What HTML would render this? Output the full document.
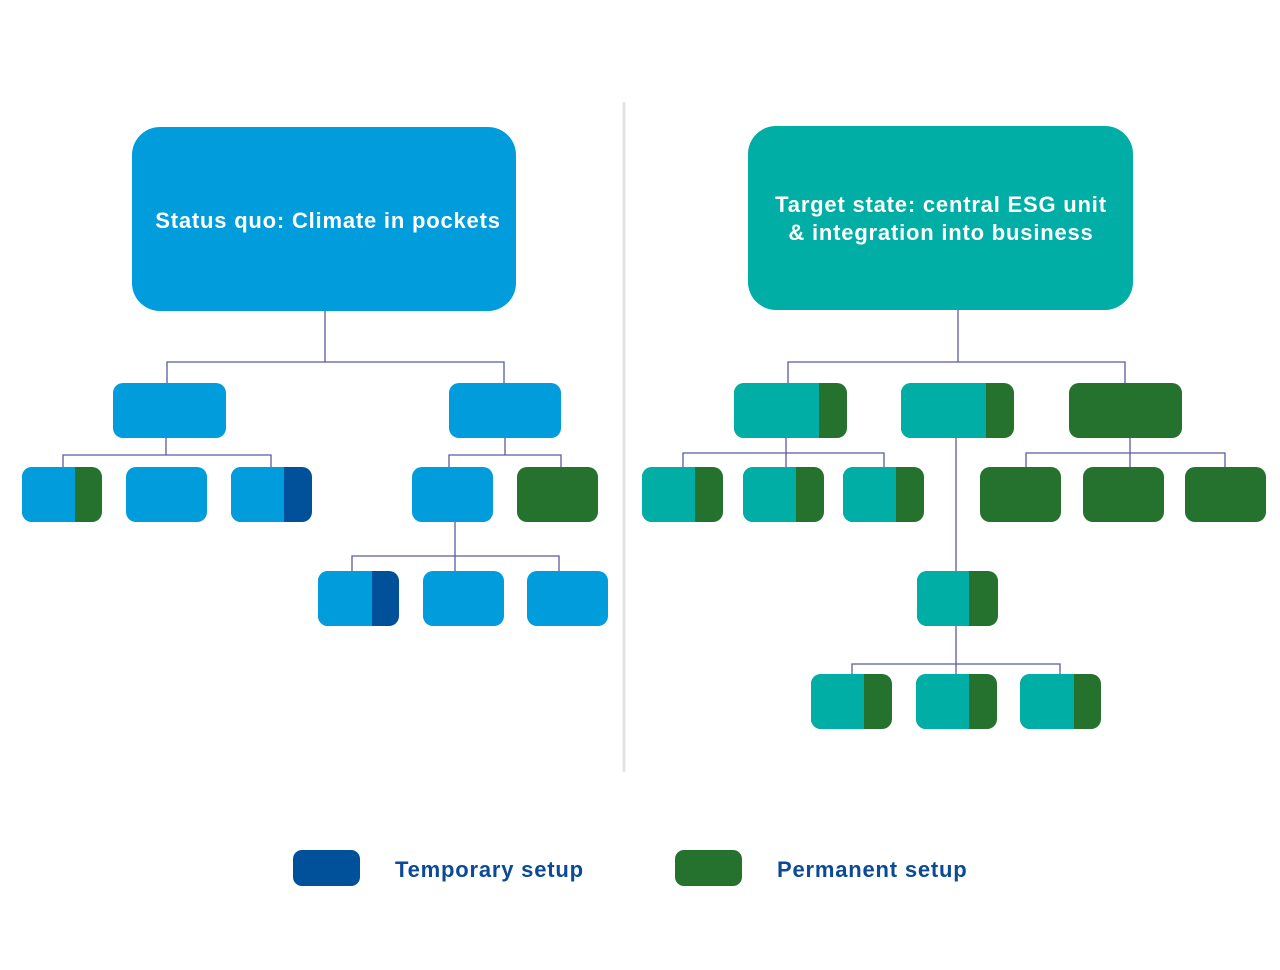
<!DOCTYPE html>
<html><head><style>body{margin:0;background:#fff}svg{display:block}text{font-family:"Liberation Sans",sans-serif;font-weight:bold;letter-spacing:0.8px}</style></head><body>
<svg width="1280" height="970" viewBox="0 0 1280 970" xmlns="http://www.w3.org/2000/svg">
<rect x="622.5" y="102" width="3" height="670" fill="#e3e3e3"/>
<g stroke="#5b5ba3" stroke-width="1.3" fill="none">
<path d="M325 311V362M167 383V362H504V383"/>
<path d="M166 438V455M63 467V455H271V467"/>
<path d="M505 438V455M449 467V455H561V467"/>
<path d="M455 522V556M352 571V556H559V571M455 556V571"/>
<path d="M958 310V362M788 383V362H1125V383"/>
<path d="M786 438V453M683 467V453H884V467M786 453V467"/>
<path d="M1130 438V453M1026 467V453H1225V467M1130 453V467"/>
<path d="M956 438V571M956 626V664M852 674V664H1060V674M956 664V674"/>
</g>
<rect x="132" y="127" width="384" height="184" rx="28" fill="#009cdc"/>
<text x="328" y="228" fill="#fff" font-size="22" text-anchor="middle">Status quo: Climate in pockets</text>
<rect x="748" y="126" width="385" height="184" rx="28" fill="#00aea6"/>
<text x="941" y="212" fill="#fff" font-size="22" text-anchor="middle">Target state: central ESG unit</text>
<text x="941" y="240" fill="#fff" font-size="22" text-anchor="middle">&amp; integration into business</text>
<g>
<rect x="113" y="383" width="113" height="55" rx="10" fill="#009cdc"/>
<rect x="449" y="383" width="112" height="55" rx="10" fill="#009cdc"/>
<rect x="22" y="467" width="80" height="55" rx="10" fill="#24722e"/><path d="M75 467H32a10 10 0 0 0-10 10v35a10 10 0 0 0 10 10H75z" fill="#009cdc"/>
<rect x="126" y="467" width="81" height="55" rx="10" fill="#009cdc"/>
<rect x="231" y="467" width="81" height="55" rx="10" fill="#00519a"/><path d="M284 467H241a10 10 0 0 0-10 10v35a10 10 0 0 0 10 10H284z" fill="#009cdc"/>
<rect x="412" y="467" width="81" height="55" rx="10" fill="#009cdc"/>
<rect x="517" y="467" width="81" height="55" rx="10" fill="#24722e"/>
<rect x="318" y="571" width="81" height="55" rx="10" fill="#00519a"/><path d="M372 571H328a10 10 0 0 0-10 10v35a10 10 0 0 0 10 10H372z" fill="#009cdc"/>
<rect x="423" y="571" width="81" height="55" rx="10" fill="#009cdc"/>
<rect x="527" y="571" width="81" height="55" rx="10" fill="#009cdc"/>
<rect x="734" y="383" width="113" height="55" rx="10" fill="#24722e"/><path d="M819 383H744a10 10 0 0 0-10 10v35a10 10 0 0 0 10 10H819z" fill="#00aea6"/>
<rect x="901" y="383" width="113" height="55" rx="10" fill="#24722e"/><path d="M986 383H911a10 10 0 0 0-10 10v35a10 10 0 0 0 10 10H986z" fill="#00aea6"/>
<rect x="1069" y="383" width="113" height="55" rx="10" fill="#24722e"/>
<rect x="642" y="467" width="81" height="55" rx="10" fill="#24722e"/><path d="M695 467H652a10 10 0 0 0-10 10v35a10 10 0 0 0 10 10H695z" fill="#00aea6"/>
<rect x="743" y="467" width="81" height="55" rx="10" fill="#24722e"/><path d="M796 467H753a10 10 0 0 0-10 10v35a10 10 0 0 0 10 10H796z" fill="#00aea6"/>
<rect x="843" y="467" width="81" height="55" rx="10" fill="#24722e"/><path d="M896 467H853a10 10 0 0 0-10 10v35a10 10 0 0 0 10 10H896z" fill="#00aea6"/>
<rect x="980" y="467" width="81" height="55" rx="10" fill="#24722e"/>
<rect x="1083" y="467" width="81" height="55" rx="10" fill="#24722e"/>
<rect x="1185" y="467" width="81" height="55" rx="10" fill="#24722e"/>
<rect x="917" y="571" width="81" height="55" rx="10" fill="#24722e"/><path d="M969 571H927a10 10 0 0 0-10 10v35a10 10 0 0 0 10 10H969z" fill="#00aea6"/>
<rect x="811" y="674" width="81" height="55" rx="10" fill="#24722e"/><path d="M864 674H821a10 10 0 0 0-10 10v35a10 10 0 0 0 10 10H864z" fill="#00aea6"/>
<rect x="916" y="674" width="81" height="55" rx="10" fill="#24722e"/><path d="M969 674H926a10 10 0 0 0-10 10v35a10 10 0 0 0 10 10H969z" fill="#00aea6"/>
<rect x="1020" y="674" width="81" height="55" rx="10" fill="#24722e"/><path d="M1074 674H1030a10 10 0 0 0-10 10v35a10 10 0 0 0 10 10H1074z" fill="#00aea6"/>
</g>
<rect x="293" y="850" width="67" height="36" rx="9" fill="#00519a"/>
<text x="395" y="877" fill="#0a4a96" font-size="22">Temporary setup</text>
<rect x="675" y="850" width="67" height="36" rx="9" fill="#24722e"/>
<text x="777" y="877" fill="#0a4a96" font-size="22">Permanent setup</text>
</svg>
</body></html>
